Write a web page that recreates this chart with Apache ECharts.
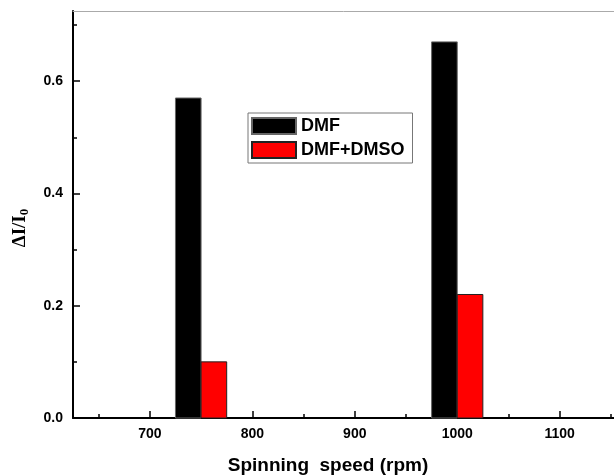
<!DOCTYPE html>
<html>
<head>
<meta charset="utf-8">
<script src="https://cdn.jsdelivr.net/npm/echarts@6/dist/echarts.min.js"></script>
<style>
  html, body { margin: 0; padding: 0; background: #fff; }
  #chart { width: 614px; height: 475px; }
</style>
</head>
<body>
<div id="chart"></div>
<script>
// spinning speeds (rpm) and the two solvent series
const speeds = [750, 1000];
const dmf = [0.57, 0.67];
const dmfDmso = [0.10, 0.22];
const xMajor = [700, 800, 900, 1000, 1100];
const xMinor = [650, 750, 850, 950, 1050, 1150];
const yMajor = [0, 0.2, 0.4, 0.6];
const yMinor = [0.1, 0.3, 0.5, 0.7];

const FONT = '"Liberation Sans", Arial, sans-serif';
const SERIF = '"Liberation Serif", "Times New Roman", serif';
const BAR_W = 25; // bar width in rpm
const X_MIN = 625, X_MAX = 1153; // plot is cut off at the right edge

function barRenderer(offset) {
  return function (params, api) {
    const x = api.value(0);
    const start = api.coord([x + offset, api.value(1)]);
    const end = api.coord([x + offset + BAR_W, 0]);
    return {
      type: 'rect',
      shape: { x: start[0], y: start[1], width: end[0] - start[0], height: end[1] - start[1] },
      style: api.style()
    };
  };
}

const tickLabel = { fontFamily: FONT, fontWeight: 'bold', fontSize: 14, color: '#000' };
const tickLine = { color: '#000', width: 1.5 };

const chart = echarts.init(document.getElementById('chart'));
chart.setOption({
  animation: false,
  grid: { left: 73, right: 0, top: 11, bottom: 57 },
  legend: {
    orient: 'vertical',
    left: 248, top: 113,
    padding: [4, 8, 4, 3],
    itemGap: 6,
    itemWidth: 44, itemHeight: 16,
    borderColor: '#777', borderWidth: 1,
    icon: 'rect',
    textStyle: { fontFamily: FONT, fontWeight: 'bold', fontSize: 18, color: '#000' },
    data: ['DMF', 'DMF+DMSO']
  },
  xAxis: [{
    type: 'value', min: X_MIN, max: X_MAX, position: 'bottom',
    axisLine: { lineStyle: { color: '#000', width: 2 } },
    axisTick: { inside: true, length: 7, lineStyle: tickLine, customValues: xMajor },
    axisLabel: Object.assign({ margin: 9, customValues: xMajor, formatter: v => String(v) }, tickLabel),
    splitLine: { show: false }
  }, {
    type: 'value', min: X_MIN, max: X_MAX, position: 'bottom',
    axisLine: { show: false },
    axisTick: { inside: true, length: 4, lineStyle: tickLine, customValues: xMinor },
    axisLabel: { show: false },
    splitLine: { show: false }
  }, {
    // top frame line
    type: 'value', min: X_MIN, max: X_MAX, position: 'top',
    axisLine: { lineStyle: { color: '#aaa', width: 1 } },
    axisTick: { show: false },
    axisLabel: { show: false },
    splitLine: { show: false }
  }],
  yAxis: [{
    type: 'value', min: 0, max: 0.725, position: 'left',
    axisLine: { show: true, lineStyle: { color: '#000', width: 2 } },
    axisTick: { show: true, inside: true, length: 7, lineStyle: tickLine, customValues: yMajor },
    axisLabel: Object.assign({ margin: 10, customValues: yMajor, formatter: v => v.toFixed(1) }, tickLabel),
    splitLine: { show: false }
  }, {
    type: 'value', min: 0, max: 0.725, position: 'left',
    axisLine: { show: false },
    axisTick: { show: true, inside: true, length: 4, lineStyle: tickLine, customValues: yMinor },
    axisLabel: { show: false },
    splitLine: { show: false }
  }],
  graphic: [{
    type: 'text', x: 328, y: 466,
    style: {
      text: 'Spinning  speed (rpm)', fontFamily: FONT, fontWeight: 'bold', fontSize: 19,
      fill: '#000', align: 'center', verticalAlign: 'middle'
    }
  }, {
    type: 'text', x: 20, y: 228, rotation: Math.PI / 2,
    style: {
      text: '{a|ΔI/I}{b|0}', align: 'center', verticalAlign: 'middle',
      rich: {
        a: { fontFamily: SERIF, fontWeight: 'bold', fontSize: 19, fill: '#000', lineHeight: 22 },
        b: { fontFamily: SERIF, fontWeight: 'bold', fontSize: 13, fill: '#000', lineHeight: 22, padding: [9, 0, 0, 0] }
      }
    }
  }],
  series: [{
    name: 'DMF', type: 'custom',
    renderItem: barRenderer(-BAR_W),
    itemStyle: { color: '#000', borderColor: '#666', borderWidth: 1 },
    encode: { x: 0, y: 1 },
    data: speeds.map((s, i) => [s, dmf[i]])
  }, {
    name: 'DMF+DMSO', type: 'custom',
    renderItem: barRenderer(0),
    itemStyle: { color: '#ff0000', borderColor: '#222', borderWidth: 1 },
    encode: { x: 0, y: 1 },
    data: speeds.map((s, i) => [s, dmfDmso[i]])
  }]
});
</script>
</body>
</html>
